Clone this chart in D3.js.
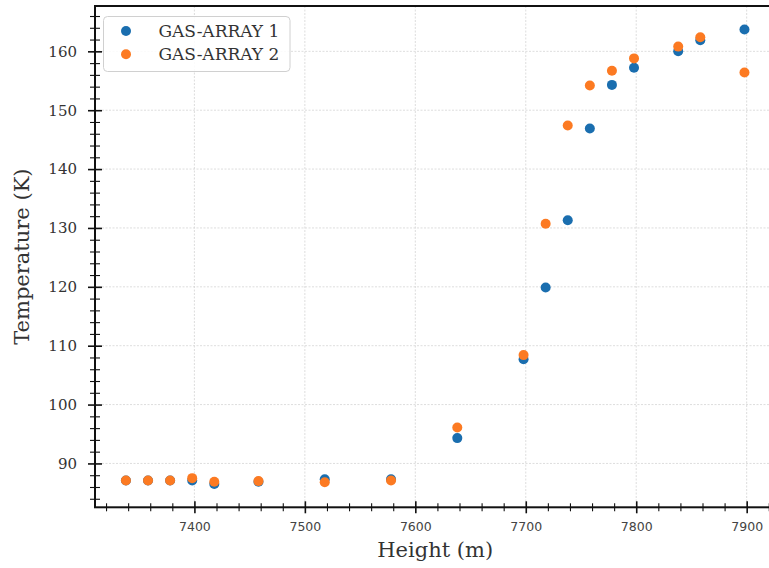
<!DOCTYPE html>
<html>
<head>
<meta charset="utf-8">
<script src="https://cdn.jsdelivr.net/npm/d3@7"></script>
<style>
  html, body { margin: 0; padding: 0; background: #fff; }
  svg { display: block; }
</style>
</head>
<body>
<svg id="chart" width="769" height="568"></svg>
<script>
const heights = [7338, 7358, 7378, 7398, 7418, 7458, 7518, 7578, 7638, 7698, 7718, 7738, 7758, 7778, 7798, 7838, 7858, 7898];
const gasArray1 = [87.1, 87.1, 87.1, 87.1, 86.5, 86.9, 87.3, 87.3, 94.3, 107.7, 119.9, 131.3, 146.9, 154.3, 157.2, 160.0, 161.9, 163.7];
const gasArray2 = [87.1, 87.1, 87.1, 87.5, 86.9, 87.0, 86.8, 87.1, 96.1, 108.4, 130.7, 147.4, 154.2, 156.7, 158.8, 160.8, 162.4, 156.4];
const seriesNames = ["GAS-ARRAY 1", "GAS-ARRAY 2"];
const seriesColors = ["#1a6eaf", "#fc7a22"];
const xTicks = [7400, 7500, 7600, 7700, 7800, 7900];
const yTicks = [90, 100, 110, 120, 130, 140, 150, 160];
const xLabel = "Height (m)";
const yLabel = "Temperature (K)";

const svg = d3.select("#chart");
const L = 95, R = 775.4, T = 6, B = 507.3;
const x = d3.scaleLinear().domain([7310, 7926]).range([L, R]);
const y = d3.scaleLinear().domain([82.55, 167.7]).range([B, T]);

const serif = "'DejaVu Serif', serif";
const sans = "'DejaVu Sans', sans-serif";

// grid
const grid = svg.append("g");
grid.selectAll("line.gx").data(xTicks).join("line")
  .attr("x1", d => x(d)).attr("x2", d => x(d)).attr("y1", T).attr("y2", B)
  .attr("stroke", "#d4d4d4").attr("stroke-width", 0.8).attr("stroke-dasharray", "2,1.5");
grid.selectAll("line.gy").data(yTicks).join("line")
  .attr("x1", L).attr("x2", R).attr("y1", d => y(d)).attr("y2", d => y(d))
  .attr("stroke", "#d4d4d4").attr("stroke-width", 0.8).attr("stroke-dasharray", "2,1.5");

// points
const series = [gasArray1, gasArray2];
series.forEach((vals, si) => {
  svg.append("g").selectAll("circle").data(vals).join("circle")
    .attr("cx", (d, i) => x(heights[i]))
    .attr("cy", d => y(d))
    .attr("r", 5)
    .attr("fill", seriesColors[si]);
});

// minor ticks values
const xMinor = d3.range(7320, 7930, 20).filter(v => !xTicks.includes(v));
const yMinor = d3.range(84, 168, 2).filter(v => !yTicks.includes(v));

// x axis
const gx = svg.append("g").attr("transform", `translate(0,${B})`);
gx.call(d3.axisBottom(x).tickValues(xTicks).tickSize(6).tickPadding(9).tickFormat(d3.format("d")));
gx.select(".domain").remove();
gx.selectAll(".tick line").attr("y1", -6).attr("y2", 6).attr("stroke", "#111").attr("stroke-width", 1.6);
gx.selectAll(".tick text").attr("font-family", sans).attr("font-size", 12.5).attr("fill", "#444");
const gxm = svg.append("g").attr("transform", `translate(0,${B})`);
gxm.call(d3.axisBottom(x).tickValues(xMinor).tickSize(4).tickFormat(""));
gxm.select(".domain").remove();
gxm.selectAll(".tick line").attr("y1", -4).attr("y2", 4).attr("stroke", "#111").attr("stroke-width", 1.1);

// y axis
const gy = svg.append("g").attr("transform", `translate(${L},0)`);
gy.call(d3.axisLeft(y).tickValues(yTicks).tickSize(7).tickPadding(11).tickFormat(d3.format("d")));
gy.select(".domain").remove();
gy.selectAll(".tick line").attr("x1", 7).attr("x2", -7).attr("stroke", "#111").attr("stroke-width", 1.6);
gy.selectAll(".tick text").attr("font-family", serif).attr("font-size", 15).attr("fill", "#333");
const gym = svg.append("g").attr("transform", `translate(${L},0)`);
gym.call(d3.axisLeft(y).tickValues(yMinor).tickSize(5).tickFormat(""));
gym.select(".domain").remove();
gym.selectAll(".tick line").attr("x1", 5).attr("x2", -5).attr("stroke", "#111").attr("stroke-width", 1.1);

// spines
svg.append("rect").attr("x", L).attr("y", T).attr("width", R - L).attr("height", B - T)
  .attr("fill", "none").attr("stroke", "#111").attr("stroke-width", 2);

// axis labels
svg.append("text").attr("x", (L + R) / 2).attr("y", 557)
  .attr("text-anchor", "middle").attr("font-family", serif).attr("font-size", 21).attr("fill", "#333")
  .text(xLabel);
svg.append("text").attr("transform", `translate(29,${(T + B) / 2}) rotate(-90)`)
  .attr("text-anchor", "middle").attr("font-family", serif).attr("font-size", 21).attr("fill", "#333")
  .text(yLabel);

// legend
const lg = svg.append("g");
lg.append("rect").attr("x", 103.5).attr("y", 16.5).attr("width", 186.5).attr("height", 55)
  .attr("rx", 4).attr("fill", "#fff").attr("fill-opacity", 0.85).attr("stroke", "#d0d0d0").attr("stroke-width", 1);
seriesNames.forEach((name, i) => {
  const cy = 31 + i * 23.3;
  lg.append("circle").attr("cx", 126).attr("cy", cy).attr("r", 5).attr("fill", seriesColors[i]);
  lg.append("text").attr("x", 158.5).attr("y", cy).attr("dy", "0.36em")
    .attr("font-family", serif).attr("font-size", 17).attr("fill", "#333").text(name);
});
</script>
</body>
</html>
